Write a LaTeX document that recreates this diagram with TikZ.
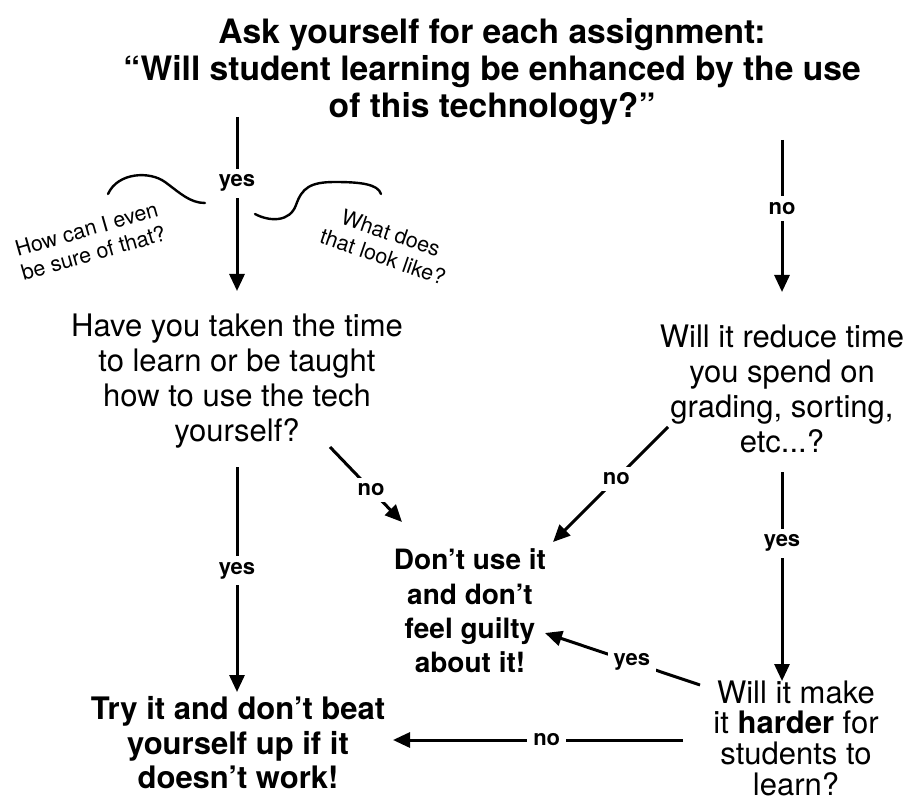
\documentclass[tikz,border=0pt]{standalone}
\usepackage{fontspec}
\setmainfont{TeX Gyre Heros}
\usetikzlibrary{arrows.meta}
\begin{document}
\begin{tikzpicture}[x=1pt,y=-1pt,
  arr/.style={line width=3pt,-{Triangle[length=17pt,width=15pt]}},
  curvy/.style={line width=2.4pt,line cap=round},
  lbl/.style={font=\bfseries\fontsize{22}{24}\selectfont, fill=white, inner sep=6pt},
  title/.style={align=center,font=\bfseries\fontsize{33.6}{37}\selectfont, inner sep=0pt},
  qbox/.style={align=center,font=\fontsize{31}{35}\selectfont, inner sep=0pt},
  outc/.style={align=center,font=\bfseries\fontsize{28}{34.3}\selectfont, inner sep=0pt},
  outb/.style={align=center,font=\bfseries\fontsize{31}{34.5}\selectfont, inner sep=0pt},
  note/.style={align=center,font=\fontsize{21.5}{25}\selectfont, inner sep=0pt}
]
\useasboundingbox (0,0) rectangle (909,799);
\fill[white] (0,0) rectangle (909,799);

% nodes
\node[title] (t) at (492,72) {Ask yourself for each assignment:\\“Will student learning be enhanced by the use\\of this technology?”};
\node[qbox] (q1) at (237,381) {Have you taken the time\\to learn or be taught\\how to use the tech\\yourself?};
\node[qbox] (q2) at (782,389) {Will it reduce time\\you spend on\\grading, sorting,\\etc...?};
\node[outc] (o1) at (470,611) {Don’t use it\\and don’t\\feel guilty\\about it!};
\node[outb] (o2) at (238,743) {Try it and don’t beat\\yourself up if it\\doesn’t work!};
\node[qbox,font=\fontsize{31}{30.7}\selectfont] (q3) at (796,738) {Will it make\\it \textbf{harder} for\\students to\\learn?};

\node[note,rotate=16] (n1) at (90,241) {How can I even\\be sure of that?};
\node[note,rotate=-19] (n2) at (387,245) {What does\\that look like?};

% connector end points
\coordinate (a1s) at (237,117); \coordinate (a1e) at (237,291);
\coordinate (a2s) at (782,140); \coordinate (a2e) at (782,292);
\coordinate (a3s) at (237,467); \coordinate (a3e) at (237,692);
\coordinate (a4s) at (330,447); \coordinate (a4e) at (402,522);
\coordinate (a5s) at (668,427); \coordinate (a5e) at (553,542);
\coordinate (a6s) at (782,472); \coordinate (a6e) at (782,681);
\coordinate (a7s) at (700,685); \coordinate (a7e) at (545,633);
\coordinate (a8s) at (683,740); \coordinate (a8e) at (393,740);

\draw[arr] (a1s) -- node[lbl,pos=0.38] (l1) {yes} (a1e);
\draw[arr] (a2s) -- node[lbl,pos=0.45] (l2) {no} (a2e);
\draw[arr] (a3s) -- node[lbl,pos=0.46] (l3) {yes} (a3e);
\draw[arr] (a4s) -- node[lbl,pos=0.57] (l4) {no} (a4e);
\draw[arr] (a5s) -- node[lbl,pos=0.45] (l5) {no} (a5e);
\draw[arr] (a6s) -- node[lbl,pos=0.34] (l6) {yes} (a6e);
\draw[arr] (a7s) -- node[lbl,pos=0.44] (l7) {yes} (a7e);
\draw[arr] (a8s) -- node[lbl,pos=0.47] (l8) {no} (a8e);

% squiggles
\draw[curvy] (108,194) .. controls (118,172) and (150,171) .. (165,182)
  .. controls (180,193) and (190,203) .. (205,203);
\draw[curvy] (255,214) .. controls (270,222) and (290,222) .. (296,205)
  .. controls (302,188) and (310,182) .. (335,182)
  .. controls (360,182) and (378,184) .. (381,194);
\end{tikzpicture}
\end{document}
